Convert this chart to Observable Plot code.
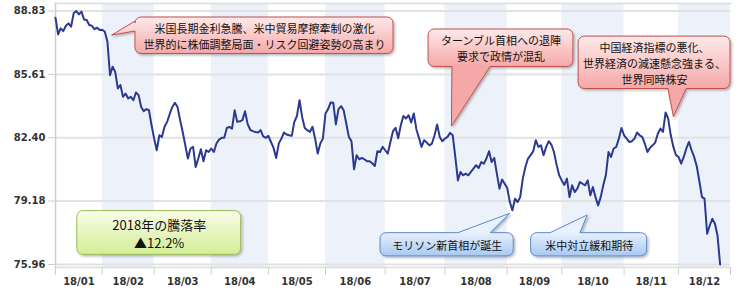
<!DOCTYPE html>
<html><head><meta charset="utf-8">
<script src="https://cdn.jsdelivr.net/npm/d3@7"></script>
<script src="https://cdn.jsdelivr.net/npm/@observablehq/plot@0.6"></script>
<style>
html,body{margin:0;padding:0;background:#fff;}
#chart{width:750px;height:300px;}
</style></head><body><div id="chart"></div>
<script>
// month categories and trading-day slots per month
const monthLabels = ["18/01","18/02","18/03","18/04","18/05","18/06","18/07","18/08","18/09","18/10","18/11","18/12"];
const monthDays = [18,20,22,22,22,23,23,24,21,24,21,20];

// daily closes by month
const jan = [88.49,87.64,87.95,87.81,88.08,88.20,88.03,88.71,88.83,88.66,88.80,88.40,88.37,88.12,88.08,87.91,87.98,87.86];
const feb = [87.88,87.78,87.27,85.57,86.00,85.74,84.90,85.07,84.47,84.64,84.39,84.47,84.30,84.69,84.56,83.96,83.74,83.85,83.79,83.03];
const mar = [82.35,81.76,82.52,82.44,82.95,83.20,83.60,83.96,84.17,83.96,83.29,82.69,82.01,81.34,81.85,81.93,80.91,81.34,81.81,81.20,81.76,81.67];
const apr = [81.85,81.67,82.10,82.30,82.39,82.39,82.89,82.95,82.86,83.79,83.20,83.23,83.29,83.74,83.10,82.80,82.73,82.69,82.66,82.78,82.47,82.39];
const may = [82.49,82.18,81.88,81.37,82.10,82.35,82.66,82.56,82.52,82.49,83.20,83.50,84.30,83.45,82.89,82.78,82.69,82.95,82.35,81.59,82.10,82.35];
const jun = [83.63,83.85,84.19,84.17,83.07,83.85,84.00,83.79,83.12,82.44,82.22,80.79,81.51,81.30,81.37,81.30,81.20,81.20,81.10,80.96,81.71,81.67,81.93];
const jul = [81.76,81.59,82.18,82.73,82.90,82.37,83.03,83.50,83.37,83.54,83.17,83.63,82.83,82.39,81.93,82.27,82.15,82.01,82.10,82.52,83.07,82.44,82.22];
const aug = [82.35,82.44,82.64,82.52,81.42,80.23,80.66,80.49,80.57,80.49,80.66,80.83,81.00,80.86,81.16,81.08,81.34,81.71,81.16,81.37,80.57,79.81,80.28,80.06];
const sep = [79.84,79.13,78.71,79.30,79.13,79.38,80.32,80.91,81.34,81.51,81.70,82.27,81.93,82.01,81.51,81.93,82.22,82.05,81.67,81.03,80.49];
const oct = [80.23,80.00,80.32,79.38,79.98,79.64,79.81,80.15,80.06,79.98,80.23,79.47,79.89,79.38,78.96,79.38,79.98,80.50,81.67,81.42,81.85,81.93,82.35,82.89];
const nov = [82.52,82.35,82.18,82.22,82.35,82.66,82.52,82.44,82.10,81.67,81.88,82.01,82.15,82.60,82.86,82.69,83.68,83.37,82.52,81.93,81.51];
const dec = [81.42,81.08,81.42,81.85,82.18,81.76,81.42,80.95,80.20,79.38,79.30,77.52,77.94,78.28,78.03,77.43,75.96];

// y tick labels
const yTicks = [75.96, 79.18, 82.40, 85.61, 88.83];

// annotation texts
const note1 = ["米国長期金利急騰、米中貿易摩擦牽制の激化", "世界的に株価調整局面・リスク回避姿勢の高まり"];
const note2 = ["ターンブル首相への退陣", "要求で政情が混乱"];
const note3 = ["中国経済指標の悪化、", "世界経済の減速懸念強まる、", "世界同時株安"];
const note4 = ["モリソン新首相が誕生"];
const note5 = ["米中対立緩和期待"];
const note6 = ["2018年の騰落率", "▲12.2%"];

// build tables
const monthSeries = [jan,feb,mar,apr,may,jun,jul,aug,sep,oct,nov,dec];
const monthStarts = Array.from(d3.cumsum([0, ...monthDays]));
const series = monthSeries.flatMap((vals, m) => vals.map((v, j) => ({i: monthStarts[m] + j, v})));
const bands = monthDays.map((d, m) => ({x1: monthStarts[m], x2: monthStarts[m + 1], m})).filter(d => d.m % 2 === 1);
const mids = monthDays.map((d, m) => monthStarts[m] + d / 2);

// callouts anchored in data coordinates (x: trading-day index, y: value)
const callouts = [
  {kind: "pink", x1: 30.8, x2: 130.2, top: 88.50, bottom: 86.65, side: "left", base: [88.29, 87.79], tip: [21.8, 87.58], lines: note1},
  {kind: "pink", x1: 143.7, x2: 199.5, top: 87.89, bottom: 85.99, side: "bottom", base: [152.9, 167.6], tip: [152.7, 82.96], lines: note2},
  {kind: "pink", x1: 201.5, x2: 260, top: 87.53, bottom: 84.87, side: "bottom", base: [236.1, 243.1], tip: [238.2, 83.44], lines: note3},
  {kind: "blue", x1: 125.2, x2: 176.5, top: 77.55, bottom: 76.37, side: "top", base: [155.2, 167.6], tip: [175.1, 78.53], lines: note4},
  {kind: "blue", x1: 183.2, x2: 227.9, top: 77.55, bottom: 76.37, side: "top", base: [190.7, 202.2], tip: [205.0, 78.45], lines: note5},
  {kind: "green", x1: 8.4, x2: 71.5, top: 78.67, bottom: 76.45, side: null, lines: note6}
];
const palettes = {
  pink: {top: "#feeaea", bottom: "#f5a8a8", stroke: "#c0504d"},
  blue: {top: "#e8f1fd", bottom: "#a8c8f2", stroke: "#5b8ac6"},
  green: {top: "#f9fde8", bottom: "#d4ed96", stroke: "#9bbb59"}
};
const calloutText = callouts.map(c => ({x: (c.x1 + c.x2) / 2, y: (c.top + c.bottom) / 2, text: c.lines.join("\n"), kind: c.kind}));

function calloutMark(index, scales) {
  const x = scales.x, y = scales.y;
  const g = d3.create("svg:g");
  const defs = g.append("defs");
  defs.append("filter").attr("id", "cshadow").attr("x", "-10%").attr("y", "-20%").attr("width", "130%").attr("height", "150%")
    .append("feDropShadow").attr("dx", 1.5).attr("dy", 1.5).attr("stdDeviation", 1)
    .attr("flood-color", "#000").attr("flood-opacity", 0.28);
  callouts.forEach((c, k) => {
    const pal = palettes[c.kind];
    const gid = "cgrad" + k;
    const X1 = x(c.x1), X2 = x(c.x2), Y1 = y(c.top), Y2 = y(c.bottom);
    const grad = defs.append("linearGradient").attr("id", gid).attr("gradientUnits", "userSpaceOnUse")
      .attr("x1", 0).attr("x2", 0).attr("y1", Y1).attr("y2", Y2);
    grad.append("stop").attr("offset", 0).attr("stop-color", pal.top);
    grad.append("stop").attr("offset", 1).attr("stop-color", pal.bottom);
    const r = 6;
    let p = `M${X1 + r},${Y1}`;
    if (c.side === "top") {
      const [a, b] = c.base.map(x).sort((m, n) => m - n);
      p += `L${a},${Y1}L${x(c.tip[0])},${y(c.tip[1])}L${b},${Y1}`;
    }
    p += `L${X2 - r},${Y1}A${r},${r} 0 0 1 ${X2},${Y1 + r}L${X2},${Y2 - r}A${r},${r} 0 0 1 ${X2 - r},${Y2}`;
    if (c.side === "bottom") {
      const [a, b] = c.base.map(x).sort((m, n) => n - m);
      p += `L${a},${Y2}L${x(c.tip[0])},${y(c.tip[1])}L${b},${Y2}`;
    }
    p += `L${X1 + r},${Y2}A${r},${r} 0 0 1 ${X1},${Y2 - r}`;
    if (c.side === "left") {
      const [a, b] = c.base.map(y).sort((m, n) => n - m);
      p += `L${X1},${a}L${x(c.tip[0])},${y(c.tip[1])}L${X1},${b}`;
    }
    p += `L${X1},${Y1 + r}A${r},${r} 0 0 1 ${X1 + r},${Y1}Z`;
    g.append("path").attr("d", p).attr("fill", `url(#${gid})`)
      .attr("stroke", pal.stroke).attr("stroke-width", 1).attr("filter", "url(#cshadow)");
  });
  return g.node();
}

const axisFont = "'DejaVu Sans', Verdana, sans-serif";
const jpFont = "'Noto Sans CJK JP', sans-serif";

const chart = Plot.plot({
  width: 750, height: 300,
  marginLeft: 55, marginRight: 20, marginTop: 3, marginBottom: 33,
  x: {domain: [0, 260], label: null},
  y: {domain: [75.96, 88.83], insetTop: 7.5, insetBottom: 3, label: null},
  style: {fontFamily: axisFont, background: "#fff", overflow: "visible"},
  marks: [
    Plot.rect(bands, {x1: "x1", x2: "x2", fill: "#edf2fa"}),
    Plot.gridY(yTicks, {stroke: "#e2e2e2", strokeOpacity: 1, strokeWidth: 2}),
    Plot.frame({anchor: "top", stroke: "#dcdcdc", strokeWidth: 1.5}),
    Plot.frame({anchor: "left", stroke: "#d0d0d0", strokeWidth: 1.5}),
    Plot.frame({anchor: "bottom", stroke: "#dcdcdc", strokeWidth: 1.5}),
    Plot.line(series, {x: "i", y: "v", stroke: "#2b3990", strokeWidth: 2, strokeLinejoin: "round"}),
    calloutMark,
    Plot.text(calloutText.filter(d => d.kind !== "green"), {x: "x", y: "y", text: "text", fontSize: 11, lineHeight: 1.45, fill: "#111", fontFamily: jpFont}),
    Plot.text(calloutText.filter(d => d.kind === "green"), {x: "x", y: "y", text: "text", fontSize: 13, lineHeight: 1.45, fill: "#111", fontFamily: jpFont}),
    Plot.axisY(yTicks, {tickFormat: d => d.toFixed(2), tickSize: 7, tickPadding: 3, fontSize: 10, fontWeight: "bold", fill: "#333", stroke: "#cfcfcf", label: null}),
    Plot.axisX(mids, {tickFormat: d => monthLabels[mids.indexOf(d)], tickSize: 0, tickPadding: 10, fontSize: 10, fontWeight: "bold", fill: "#333", label: null}),
    Plot.axisX(monthStarts, {tickFormat: () => "", tickSize: 8, stroke: "#d0d0d0", label: null})
  ]
});
document.getElementById("chart").appendChild(chart);
</script>
</body></html>
